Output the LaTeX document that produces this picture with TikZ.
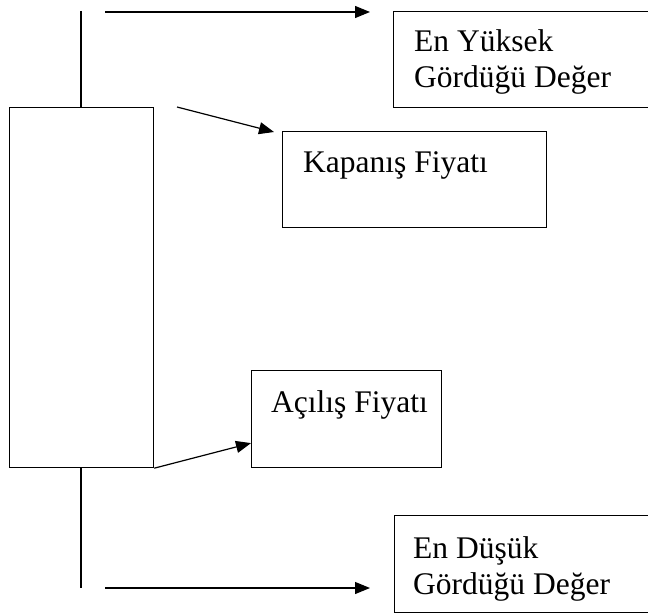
\documentclass[tikz,border=0pt]{standalone}
\usepackage{fontspec}
\setmainfont{Liberation Serif}
\usetikzlibrary{arrows.meta}
\tikzset{
  ln/.style={line width=1.2pt, draw=black},
  boxnode/.style={ln, rectangle, inner sep=0pt, anchor=north west},
  arr/.style={ln, -{Triangle[length=15pt,width=12pt]}},
  lbl/.style={anchor=north west, inner sep=0pt, align=left, font=\fontsize{31.5}{36}\selectfont}
}
\begin{document}
\begin{tikzpicture}[x=1pt,y=-1pt]
\useasboundingbox (0,0) rectangle (648,615);
\clip (0,0) rectangle (648,615);
\fill[white] (0,0) rectangle (648,615);
% candle
\node[boxnode, minimum width=144pt, minimum height=360pt] (body) at (9,107) {};
\coordinate (wtop) at (81,11);
\coordinate (wbot) at (81,588);
\draw[ln] (wtop) -- (wtop |- body.north);
\draw[ln] (wbot |- body.south) -- (wbot);
% boxes
\node[boxnode, minimum width=275pt, minimum height=96pt] (hi) at (393,11) {};
\node[boxnode, minimum width=264pt, minimum height=96pt] (cl) at (282,131) {};
\node[boxnode, minimum width=190pt, minimum height=97pt] (op) at (251,370) {};
\node[boxnode, minimum width=275pt, minimum height=97pt] (lo) at (394,515) {};
% labels
\node[lbl] (hit) at (414,29.5) {En Yüksek\\Gördüğü Değer};
\node[lbl] (clt) at (303,151.5) {Kapanış Fiyatı};
\node[lbl] (opt) at (271,390.5) {Açılış Fiyatı};
\node[lbl] (lot) at (413,536.5) {En Düşük\\Gördüğü Değer};
% arrows
\coordinate (a1s) at (105,12);
\coordinate (a1e) at (370,12);
\coordinate (a2s) at (177,107);
\coordinate (a4s) at (105,588);
\coordinate (a4e) at (370,588);
\draw[arr] (a1s) -- (a1e);
\draw[arr] (a2s) -- ([xshift=-8pt,yshift=-1pt]cl.north west);
\draw[arr] (body.south east) -- ([yshift=-24pt]op.west);
\draw[arr] (a4s) -- (a4e);
\end{tikzpicture}
\end{document}
